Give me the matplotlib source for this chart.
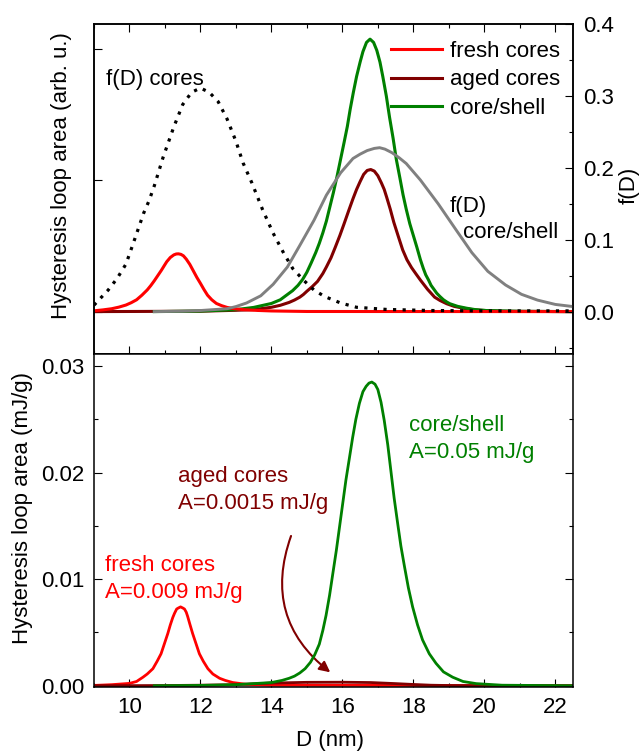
import matplotlib
matplotlib.use("Agg")
import matplotlib.pyplot as plt
from matplotlib.patches import FancyArrowPatch
from matplotlib.ticker import MultipleLocator, FormatStrFormatter

plt.rcParams['font.family'] = ['Liberation Sans', 'DejaVu Sans']
plt.rcParams['font.size'] = 16
plt.rcParams['lines.solid_joinstyle'] = 'round'

# ---- top panel: hysteresis loop area (arb. u.) ----
fresh_top_D = [9.0, 9.25, 9.5, 9.7, 9.9, 10.05, 10.2, 10.35, 10.5, 10.6, 10.7, 10.8, 10.9,
               10.98, 11.05, 11.15, 11.25, 11.32, 11.38, 11.45, 11.52, 11.6, 11.7, 11.8,
               11.9, 12.0, 12.1, 12.2, 12.32, 12.45, 12.6, 12.75, 12.95, 13.2, 13.6, 14.0,
               15.0, 22.5]
fresh_top = [0.006, 0.013, 0.022, 0.034, 0.05, 0.068, 0.09, 0.125, 0.165, 0.198, 0.235,
             0.275, 0.315, 0.35, 0.38, 0.412, 0.432, 0.439, 0.44, 0.436, 0.425, 0.4, 0.36,
             0.31, 0.26, 0.215, 0.168, 0.125, 0.09, 0.062, 0.045, 0.032, 0.022, 0.015,
             0.009, 0.005, 0.001, 0.0]

aged_top_D = [9.0, 12.0, 13.0, 13.5, 14.0, 14.25, 14.5, 14.65, 14.8, 14.9, 15.0, 15.15,
              15.3, 15.45, 15.55, 15.68, 15.8, 15.93, 16.05, 16.18, 16.3, 16.4, 16.5, 16.6,
              16.7, 16.8, 16.9, 17.0, 17.1, 17.18, 17.25, 17.35, 17.45, 17.58, 17.7, 17.82,
              17.95, 18.08, 18.2, 18.3, 18.4, 18.5, 18.6, 18.75, 18.94, 19.15, 19.4, 19.65,
              19.9, 20.5, 22.5]
aged_top = [0.0, 0.003, 0.01, 0.015, 0.033, 0.048, 0.07, 0.088, 0.11, 0.13, 0.155, 0.19,
            0.23, 0.29, 0.34, 0.41, 0.49, 0.58, 0.67, 0.77, 0.86, 0.93, 0.99, 1.045,
            1.075, 1.082, 1.07, 1.035, 0.98, 0.93, 0.87, 0.78, 0.68, 0.57, 0.47, 0.395,
            0.335, 0.285, 0.24, 0.205, 0.17, 0.14, 0.11, 0.085, 0.06, 0.04, 0.026, 0.016,
            0.01, 0.003, 0.0]

cs_top_D = [10.7, 12.0, 13.0, 13.5, 14.0, 14.25, 14.45, 14.6, 14.75, 14.88, 15.0, 15.12,
            15.25, 15.35, 15.45, 15.55, 15.65, 15.75, 15.85, 15.95, 16.05, 16.14, 16.22,
            16.31, 16.4, 16.5, 16.58, 16.68, 16.78, 16.88, 16.97, 17.06, 17.14, 17.24,
            17.33, 17.43, 17.52, 17.62, 17.71, 17.8, 17.9, 18.0, 18.1, 18.2, 18.28, 18.35,
            18.43, 18.5, 18.58, 18.66, 18.75, 18.85, 18.95, 19.03, 19.25, 19.5, 19.75,
            20.06, 21.0, 22.5]
cs_top = [0.0, 0.004, 0.015, 0.032, 0.062, 0.09, 0.13, 0.16, 0.2, 0.245, 0.3, 0.37,
          0.45, 0.52, 0.6, 0.69, 0.8, 0.91, 1.03, 1.16, 1.29, 1.41, 1.54,
          1.67, 1.79, 1.9, 1.98, 2.05, 2.075, 2.05, 1.99, 1.9, 1.79, 1.64,
          1.48, 1.32, 1.16, 1.02, 0.89, 0.78, 0.67, 0.58, 0.49, 0.395, 0.33, 0.28,
          0.24, 0.2, 0.17, 0.14, 0.115, 0.09, 0.072, 0.06, 0.04, 0.026, 0.015,
          0.008, 0.002, 0.0]

# size distributions f(D)
fd_cores_D = [9.0, 9.4, 9.65, 9.9, 10.1, 10.4, 10.55, 10.7, 10.95, 11.25, 11.5, 11.75, 12.0,
              12.25, 12.5, 12.75, 13.0, 13.2, 13.45, 13.75, 14.05, 14.35, 14.6, 14.9, 15.2,
              15.5, 15.95, 16.4, 17.25, 18.5, 20.0, 22.5]
fd_cores = [0.009, 0.03, 0.046, 0.066, 0.094, 0.137, 0.154, 0.175, 0.215, 0.257, 0.288, 0.305,
            0.311, 0.305, 0.292, 0.268, 0.237, 0.207, 0.179, 0.142, 0.109, 0.081, 0.06, 0.044,
            0.03, 0.021, 0.012, 0.006, 0.003, 0.0015, 0.001, 0.001]

fd_cs_D = [10.7, 11.5, 12.0, 12.75, 13.0, 13.3, 13.7, 14.05, 14.45, 14.8, 15.2, 15.55, 15.95,
           16.3, 16.5, 16.7, 16.9, 17.05, 17.2, 17.4, 17.6, 17.8, 18.2, 18.7, 19.2, 19.65,
           20.1, 20.6, 21.05, 21.5, 22.0, 22.5]
fd_cs = [0.0, 0.0005, 0.0015, 0.004, 0.007, 0.012, 0.022, 0.038, 0.062, 0.092, 0.127, 0.162,
         0.193, 0.213, 0.219, 0.224, 0.227, 0.228, 0.226, 0.221, 0.214, 0.206, 0.183, 0.15,
         0.114, 0.082, 0.056, 0.037, 0.024, 0.016, 0.01, 0.007]

# ---- bottom panel: hysteresis loop area (mJ/g) ----
fresh_D = [9.0, 9.5, 10.0, 10.2, 10.38, 10.5, 10.66, 10.78, 10.89, 10.98, 11.08, 11.15,
           11.22, 11.27, 11.33, 11.38, 11.44, 11.5, 11.55, 11.6, 11.64, 11.7, 11.78, 11.87,
           11.97, 12.08, 12.21, 12.35, 12.54, 12.7, 12.91, 13.3, 14.0, 22.5]
fresh = [0.00003, 0.0001, 0.00022, 0.0004, 0.0008, 0.0011, 0.0016, 0.0023, 0.003, 0.0039,
         0.0049, 0.0057, 0.0064, 0.0068, 0.0072, 0.0073, 0.0074, 0.0073, 0.0072, 0.0069,
         0.0065, 0.0058, 0.0049, 0.004, 0.003, 0.0023, 0.0016, 0.0011, 0.0007, 0.0005,
         0.0003, 0.00013, 0.00005, 0.0]

aged_D = [9.0, 11.0, 12.0, 13.0, 13.5, 14.0, 15.0, 16.0, 16.8, 17.5, 18.0, 18.5, 19.0, 20.0, 22.5]
aged = [0.0, 0.00002, 0.00005, 0.0001, 0.00018, 0.00025, 0.00032, 0.00033, 0.0003, 0.0002,
        0.00012, 0.00005, 0.00002, 0.0, 0.0]

cs_D = [10.7, 12.0, 13.0, 14.0, 14.3, 14.5, 14.65, 14.8, 14.95, 15.1, 15.22, 15.35, 15.45,
        15.54, 15.64, 15.73, 15.83, 15.92, 16.01, 16.1, 16.2, 16.29, 16.38, 16.48, 16.58,
        16.67, 16.75, 16.83, 16.92, 17.0, 17.09, 17.18, 17.28, 17.37, 17.46, 17.56, 17.65,
        17.75, 17.86, 17.98, 18.12, 18.26, 18.45, 18.64, 18.85, 19.11, 19.4, 19.77, 20.5, 22.5]
cs = [0.0, 0.00003, 0.0001, 0.0003, 0.0005, 0.0007, 0.0009, 0.0012, 0.0016, 0.0022, 0.0029,
      0.0039, 0.0052, 0.0066, 0.0085, 0.0105, 0.0127, 0.0149, 0.0171, 0.0193, 0.0214, 0.0233,
      0.025, 0.0265, 0.0276, 0.0281, 0.0284, 0.0285, 0.0283, 0.0278, 0.0266, 0.0249, 0.0226,
      0.0201, 0.0176, 0.0152, 0.0131, 0.0112, 0.0092, 0.0074, 0.0057, 0.0043, 0.003, 0.0021,
      0.0013, 0.0008, 0.0004, 0.0002, 0.00005, 0.0]

RED = '#ff0000'
DRED = '#800000'
GREEN = '#008000'
GRAY = '#808080'

fig = plt.figure(figsize=(6.39, 7.51), dpi=100)
ax1 = fig.add_axes([0.1471, 0.5286, 0.7496, 0.4394])
ax1r = ax1.twinx()
ax2 = fig.add_axes([0.1471, 0.0852, 0.7496, 0.4434])

# top panel
ax1.plot(aged_top_D, aged_top, color=DRED, lw=2.2, label='aged cores')
ax1.plot(cs_top_D, cs_top, color=GREEN, lw=2.2, label='core/shell')
ax1.plot(fresh_top_D, fresh_top, color=RED, lw=2.2, label='fresh cores')
ax1r.plot(fd_cs_D, fd_cs, color=GRAY, lw=2.1)
ax1r.plot(fd_cores_D, fd_cores, color='black', lw=2.3, linestyle=(0, (1, 2)))

h, l = ax1.get_legend_handles_labels()
order = [2, 0, 1]
ax1r.legend([h[i] for i in order], [l[i] for i in order], loc='upper right',
            bbox_to_anchor=(1.008, 1.0), frameon=False, handlelength=2.3,
            handletextpad=0.35, labelspacing=0.35, borderaxespad=0.0, borderpad=0.75)

ax1.set_xlim(9, 22.5)
ax1.set_ylim(-0.323, 2.19)
ax1r.set_ylim(-0.059, 0.4)
ax1.set_yticks([0, 1, 2])
ax1.xaxis.set_major_locator(MultipleLocator(2))
ax1.xaxis.set_minor_locator(MultipleLocator(1))
ax1r.yaxis.set_major_locator(MultipleLocator(0.1))
ax1r.yaxis.set_minor_locator(MultipleLocator(0.05))
ax1r.yaxis.set_major_formatter(FormatStrFormatter('%.1f'))
ax1.tick_params(axis='x', which='both', direction='in', top=True, bottom=True,
                labelbottom=False, width=0.8)
ax1.tick_params(axis='y', which='both', direction='in', left=True, right=False,
                labelleft=False, width=0.8, length=5.8)
ax1.tick_params(axis='x', which='major', length=5.8)
ax1.tick_params(axis='x', which='minor', length=3.2)
ax1r.tick_params(axis='y', which='major', direction='in', length=5.8, width=0.8, pad=7)
ax1r.tick_params(axis='y', which='minor', direction='in', length=3.2, width=0.8)

ax1r.text(9.35, 0.3146, 'f(D) cores', va='baseline', ha='left')
ax1r.text(19.01, 0.1387, 'f(D)', va='baseline', ha='left')
ax1r.text(19.41, 0.1025, 'core/shell', va='baseline', ha='left')

# bottom panel
ax2.plot(fresh_D, fresh, color=RED, lw=2.0)
ax2.plot(aged_D, aged, color=DRED, lw=2.0)
ax2.plot(cs_D, cs, color=GREEN, lw=2.0)

ax2.set_xlim(9, 22.5)
ax2.set_ylim(-0.00012, 0.03113)
ax2.xaxis.set_major_locator(MultipleLocator(2))
ax2.xaxis.set_minor_locator(MultipleLocator(1))
ax2.yaxis.set_major_locator(MultipleLocator(0.01))
ax2.yaxis.set_minor_locator(MultipleLocator(0.005))
ax2.yaxis.set_major_formatter(FormatStrFormatter('%.2f'))
ax2.tick_params(axis='x', which='both', direction='in', top=False, bottom=True, width=0.8, pad=7)
ax2.tick_params(axis='y', which='both', direction='in', left=True, right=True, width=0.8, pad=7)
ax2.tick_params(which='major', length=5.8)
ax2.tick_params(which='minor', length=3.2)

ax2.text(9.32, 0.01076, 'fresh cores', color=RED, va='baseline', ha='left')
ax2.text(9.32, 0.0082, 'A=0.009 mJ/g', color=RED, va='baseline', ha='left')
ax2.text(11.36, 0.01914, 'aged cores', color=DRED, va='baseline', ha='left')
ax2.text(11.36, 0.01655, 'A=0.0015 mJ/g', color=DRED, va='baseline', ha='left')
ax2.text(17.87, 0.02392, 'core/shell', color=GREEN, va='baseline', ha='left')
ax2.text(17.87, 0.02133, 'A=0.05 mJ/g', color=GREEN, va='baseline', ha='left')

arrow = FancyArrowPatch((14.58, 0.0143), (15.72, 0.0011), connectionstyle='arc3,rad=0.37',
                        arrowstyle='-|>', mutation_scale=16, color=DRED, lw=1.5)
ax2.add_patch(arrow)

for a in (ax1, ax1r, ax2):
    for s in a.spines.values():
        s.set_linewidth(1.1)

fig.text(0.0970, 0.7663, 'Hysteresis loop area (arb. u.)', rotation=90, ha='center', va='center')
fig.text(0.0352, 0.3236, 'Hysteresis loop area (mJ/g)', rotation=90, ha='center', va='center')
fig.text(0.9844, 0.7537, 'f(D)', rotation=90, ha='center', va='center')
fig.text(0.5164, 0.0140, 'D (nm)', ha='center', va='center')

fig.savefig('out.png', dpi=100)
